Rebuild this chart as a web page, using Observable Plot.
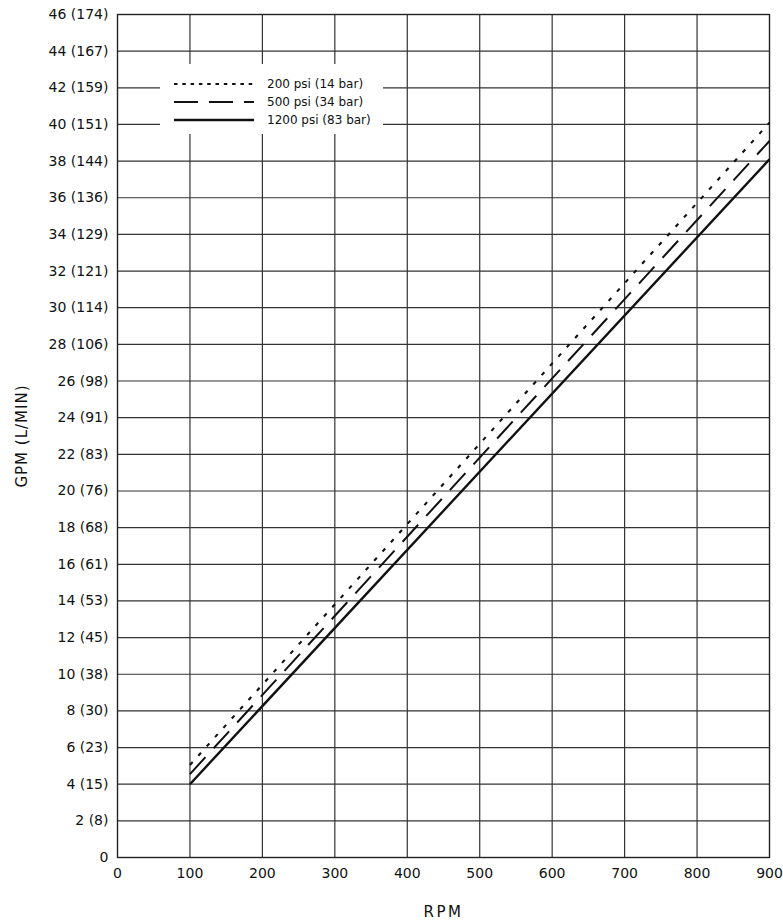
<!DOCTYPE html>
<html>
<head>
<meta charset="utf-8">
<script src="https://cdn.jsdelivr.net/npm/d3@7"></script>
<script src="https://cdn.jsdelivr.net/npm/@observablehq/plot@0.6"></script>
<style>
  html, body { margin: 0; padding: 0; background: white; }
  #chart { width: 783px; height: 920px; }
</style>
</head>
<body>
<div id="chart"></div>
<script>
// ---- data ----
const rpm = [100, 900];
const gpm200psi = [5.05, 40.1];
const gpm500psi = [4.55, 39.1];
const gpm1200psi = [4.0, 38.1];
const seriesNames = ["200 psi (14 bar)", "500 psi (34 bar)", "1200 psi (83 bar)"];
const xTicks = [0, 100, 200, 300, 400, 500, 600, 700, 800, 900];
const yTicks = [0, 2, 4, 6, 8, 10, 12, 14, 16, 18, 20, 22, 24, 26, 28, 30, 32, 34, 36, 38, 40, 42, 44, 46];
const yTickLabels = ["0", "2 (8)", "4 (15)", "6 (23)", "8 (30)", "10 (38)", "12 (45)", "14 (53)", "16 (61)", "18 (68)",
  "20 (76)", "22 (83)", "24 (91)", "26 (98)", "28 (106)", "30 (114)", "32 (121)", "34 (129)", "36 (136)", "38 (144)",
  "40 (151)", "42 (159)", "44 (167)", "46 (174)"];
const xLabel = "RPM";
const yLabel = "GPM (L/MIN)";

const toRows = (vals) => rpm.map((r, i) => ({rpm: r, gpm: vals[i]}));
const styles = [
  {vals: gpm200psi, dash: "4,8.5", width: 2.1},
  {vals: gpm500psi, dash: "23,12", width: 2.0},
  {vals: gpm1200psi, dash: null, width: 2.4}
];
const legendDash = ["3.5,4.8", "24,11", null];

const gridStyle = {stroke: "#333", strokeOpacity: 1, strokeWidth: 1.2};

const chart = Plot.plot({
  width: 783,
  height: 920,
  marginLeft: 117,
  marginRight: 14,
  marginTop: 14,
  marginBottom: 63,
  x: {domain: [0, 900]},
  y: {domain: [0, 46]},
  style: {fontFamily: "'DejaVu Sans', sans-serif", fontSize: "14px", color: "#111", background: "white"},
  marks: [
    Plot.gridX(xTicks.slice(1, -1), gridStyle),
    Plot.gridY(yTicks.slice(1, -1), gridStyle),
    Plot.frame({stroke: "#222", strokeWidth: 1.4}),
    Plot.axisX(xTicks, {tickSize: 0, tickPadding: 11, label: xLabel, labelAnchor: "center", labelArrow: "none", labelOffset: 59}),
    Plot.axisY(yTicks, {tickSize: 0, tickPadding: 9, tickFormat: (d) => yTickLabels[yTicks.indexOf(d)],
      label: yLabel, labelAnchor: "center", labelArrow: "none", labelOffset: 101}),
    ...styles.map((s) => Plot.line(toRows(s.vals), {x: "rpm", y: "gpm", stroke: "#111", strokeWidth: s.width,
      strokeDasharray: s.dash ?? undefined, strokeLinecap: "butt"}))
  ]
});
document.getElementById("chart").appendChild(chart);

// axis label styling
const svg = d3.select(chart);
svg.selectAll('[aria-label="x-axis label"] text').style("font-size", "15px").style("letter-spacing", "2.5px");
svg.selectAll('[aria-label="y-axis label"] text').style("font-size", "15px").style("letter-spacing", "1px");

// legend (white box masking the grid)
const lg = svg.append("g").attr("font-family", "'DejaVu Sans', sans-serif").attr("font-size", 12)
  .attr("fill", "#111").attr("text-anchor", "start");
lg.append("rect").attr("x", 160).attr("y", 64).attr("width", 223).attr("height", 70).attr("fill", "white");
seriesNames.forEach((name, i) => {
  const y = 84 + i * 18;
  lg.append("line").attr("x1", 174).attr("x2", 254).attr("y1", y).attr("y2", y)
    .attr("stroke", "#111").attr("stroke-width", styles[i].width)
    .attr("stroke-dasharray", legendDash[i]);
  lg.append("text").attr("x", 267).attr("y", y).attr("dy", "0.35em").attr("text-anchor", "start").text(name);
});
</script>
</body>
</html>
